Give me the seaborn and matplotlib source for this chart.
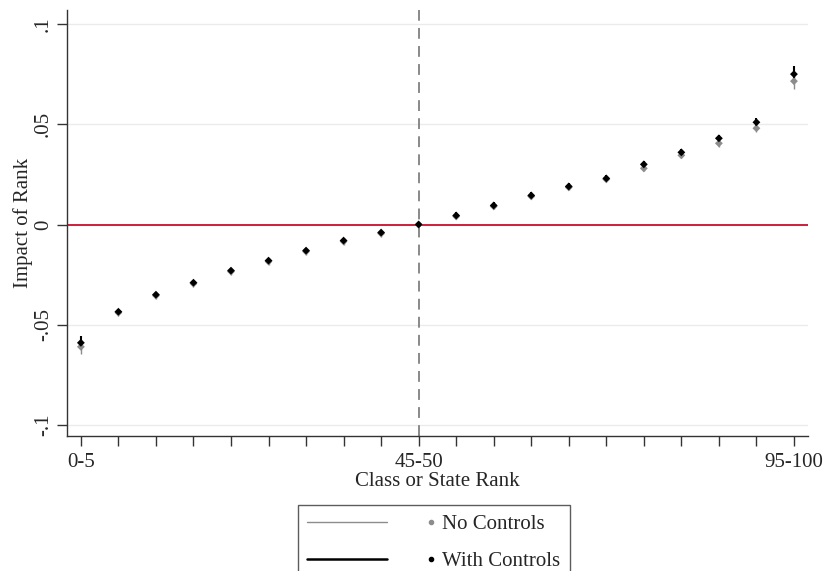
import numpy as np
import pandas as pd
import seaborn as sns
import matplotlib.pyplot as plt
from matplotlib.lines import Line2D
from matplotlib.legend_handler import HandlerBase

# Datos (20 ventiles de rango)
rangos = ['0-5', '5-10', '10-15', '15-20', '20-25', '25-30', '30-35', '35-40', '40-45', '45-50',
          '50-55', '55-60', '60-65', '65-70', '70-75', '75-80', '80-85', '85-90', '90-95', '95-100']
con_controles = [-0.0590, -0.0435, -0.0350, -0.0290, -0.0230, -0.0180, -0.0130, -0.0080, -0.0040, 0.0000,
                 0.0045, 0.0095, 0.0145, 0.0190, 0.0230, 0.0300, 0.0360, 0.0430, 0.0510, 0.0750]
sin_controles = [-0.0610, -0.0440, -0.0355, -0.0295, -0.0235, -0.0185, -0.0135, -0.0085, -0.0045, 0.0000,
                 0.0040, 0.0090, 0.0140, 0.0185, 0.0225, 0.0280, 0.0345, 0.0405, 0.0480, 0.0715]
ic_con = [0.0035, 0.0015, 0.0015, 0.0015, 0.0015, 0.0015, 0.0015, 0.0015, 0.0015, 0.0005,
          0.0015, 0.0015, 0.0015, 0.0015, 0.0015, 0.0015, 0.0015, 0.0018, 0.0020, 0.0040]
ic_sin = [0.0035, 0.0015, 0.0015, 0.0015, 0.0015, 0.0015, 0.0015, 0.0015, 0.0015, 0.0005,
          0.0015, 0.0015, 0.0015, 0.0015, 0.0015, 0.0015, 0.0015, 0.0018, 0.0020, 0.0040]
etiquetas_x = {0: '0-5', 9: '45-50', 19: '95-100'}
ticks_y = [-0.1, -0.05, 0, 0.05, 0.1]
etiquetas_y = ['-.1', '-.05', '0', '.05', '.1']

sns.set_theme(style="white")
plt.rcParams['font.family'] = ['Liberation Serif', 'DejaVu Serif']
TAM = 15


class LineaPunto(HandlerBase):
    """Entrada de leyenda al estilo Stata: línea y luego el marcador."""
    def create_artists(self, legend, orig, xd, yd, width, height, fontsize, trans):
        linea, punto = orig
        y = height / 2 - yd
        l = Line2D([-xd, -xd + width * 0.63], [y, y], color=linea.get_color(),
                   lw=linea.get_linewidth(), transform=trans)
        p = Line2D([-xd + width * 0.98], [y], color=punto.get_color(), marker='o',
                   ms=punto.get_markersize(), ls='none', transform=trans)
        return [l, p]


pos = np.arange(len(rangos))
df = pd.DataFrame({'pos': np.concatenate([pos, pos]),
                   'valor': sin_controles + con_controles,
                   'ic': ic_sin + ic_con,
                   'serie': ['No Controls'] * len(pos) + ['With Controls'] * len(pos)})

fig = plt.figure(figsize=(8.26, 5.71), dpi=100)
ax = fig.add_axes([0.0811, 0.2364, 0.8969, 0.7461])

# líneas de referencia
for t in ticks_y:
    ax.axhline(t, color='#ebebeb', lw=1, zorder=0)
ax.axhline(0, color='#c8102e', lw=1.3, zorder=1)
ax.axvline(9, color='#808080', lw=1.3, ls=(0, (6, 4)), zorder=1)

colores = {'No Controls': '#8c8c8c', 'With Controls': 'black'}
for serie, sub in df.groupby('serie'):
    ax.errorbar(sub['pos'], sub['valor'], yerr=sub['ic'], fmt='none',
                ecolor=colores[serie], elinewidth=1.5 if serie == 'With Controls' else 1.0, zorder=2)
sns.scatterplot(data=df, x='pos', y='valor', hue='serie', palette=colores, marker='D',
                s=16, edgecolor='none', legend=False, ax=ax, zorder=3)

ax.set_xlim(-0.37, 19.37)
ax.set_ylim(-0.1055, 0.107)
ax.set_xticks(pos)
ax.set_xticklabels([etiquetas_x.get(i, '') for i in pos], fontsize=TAM)
ax.set_yticks(ticks_y)
ax.set_yticklabels(etiquetas_y, fontsize=TAM, rotation=90, va='center')
ax.tick_params(axis='both', direction='out', length=7, width=1, color='#333333',
               bottom=True, left=True)
ax.tick_params(axis='x', pad=5)
ax.tick_params(axis='y', pad=3)
ax.set_xlabel('Class or State Rank', fontsize=TAM, labelpad=0.5)
ax.set_ylabel('Impact of Rank', fontsize=TAM, labelpad=0.5)
for lado in ['top', 'right']:
    ax.spines[lado].set_visible(False)
for lado in ['left', 'bottom']:
    ax.spines[lado].set_color('#333333')
    ax.spines[lado].set_linewidth(1)

# leyenda
entradas = [(Line2D([], [], color='#8c8c8c', lw=1), Line2D([], [], color='#8c8c8c', ms=3)),
            (Line2D([], [], color='black', lw=1.8), Line2D([], [], color='black', ms=3))]
fig.legend(entradas, ['No Controls', 'With Controls'], loc='upper center',
           bbox_to_anchor=(0.525, 0.1156), handler_map={tuple: LineaPunto()},
           fontsize=TAM, frameon=True, fancybox=False, edgecolor='#333333', handlelength=6.1,
           handletextpad=0.4, borderpad=0.45, labelspacing=0.85, borderaxespad=0)

plt.savefig('out.png', dpi=100)
plt.close()
